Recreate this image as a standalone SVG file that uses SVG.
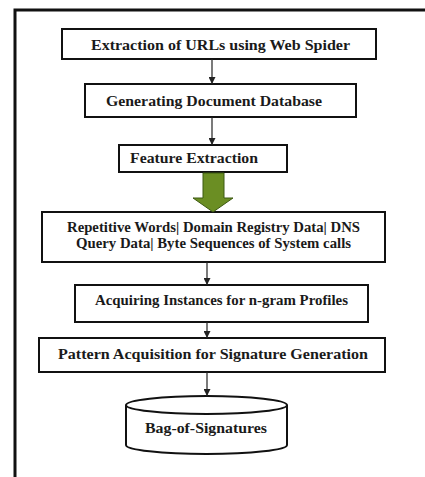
<svg xmlns="http://www.w3.org/2000/svg" width="425" height="477" viewBox="0 0 425 477">
<defs>
<style>
.box{fill:#fff;stroke:#111;stroke-width:2}
.t{font-family:"Liberation Serif",serif;font-weight:bold;font-size:15.5px;fill:#1a1a1a;text-anchor:middle}
.c{stroke:#222;stroke-width:1.2;fill:none;marker-end:url(#ah)}
</style>
<marker id="ah" viewBox="0 0 10 10" refX="10" refY="5" markerWidth="7" markerHeight="7" markerUnits="userSpaceOnUse" orient="auto"><path d="M0,0L10,5L0,10z" fill="#222"/></marker>
</defs>
<rect width="425" height="477" fill="#fff"/>
<path d="M15,477V10H425" fill="none" stroke="#111" stroke-width="3"/>
<g id="n1"><rect class="box" x="62" y="29" width="314" height="30"/><text class="t" x="220.5" y="50" textLength="259" lengthAdjust="spacingAndGlyphs">Extraction of URLs using Web Spider</text></g>
<g id="n2"><rect class="box" x="85" y="84" width="271" height="33"/><text class="t" x="214" y="106" textLength="216" lengthAdjust="spacingAndGlyphs">Generating Document Database</text></g>
<g id="n3"><rect class="box" x="119" y="145" width="168" height="27"/><text class="t" x="194" y="163" textLength="128" lengthAdjust="spacingAndGlyphs">Feature Extraction</text></g>
<g id="n4"><rect class="box" x="42" y="212" width="343" height="50"/><text class="t" x="213.5" y="232" textLength="293" lengthAdjust="spacingAndGlyphs">Repetitive Words| Domain Registry Data| DNS</text><text class="t" x="213.5" y="248" textLength="275" lengthAdjust="spacingAndGlyphs">Query Data| Byte Sequences of System calls</text></g>
<g id="n5"><rect class="box" x="75" y="285" width="293" height="37"/><text class="t" x="221.5" y="305" textLength="253" lengthAdjust="spacingAndGlyphs">Acquiring Instances for n-gram Profiles</text></g>
<g id="n6"><rect class="box" x="39" y="338" width="346" height="34"/><text class="t" x="213" y="359" textLength="310" lengthAdjust="spacingAndGlyphs">Pattern Acquisition for Signature Generation</text></g>
<g id="n7"><path d="M126,405V445A80.5,9 0 0 0 287,445V405" fill="#fff" stroke="#111" stroke-width="2"/><ellipse cx="206.5" cy="405" rx="80.5" ry="9" fill="#fff" stroke="#111" stroke-width="2"/><text class="t" x="206" y="433" textLength="122" lengthAdjust="spacingAndGlyphs">Bag-of-Signatures</text></g>
<g id="connectors">
<line class="c" x1="212" y1="59" x2="212" y2="84"/>
<line class="c" x1="212" y1="117" x2="212" y2="145"/>
<path d="M203,173H224V198H233L213,212L193,198H203Z" fill="#6b8e23" stroke="#3d5a12" stroke-width="1"/>
<line class="c" x1="207" y1="262" x2="207" y2="285"/>
<line class="c" x1="207" y1="322" x2="207" y2="338"/>
<line class="c" x1="207" y1="372" x2="207" y2="396"/>
</g>
</svg>
